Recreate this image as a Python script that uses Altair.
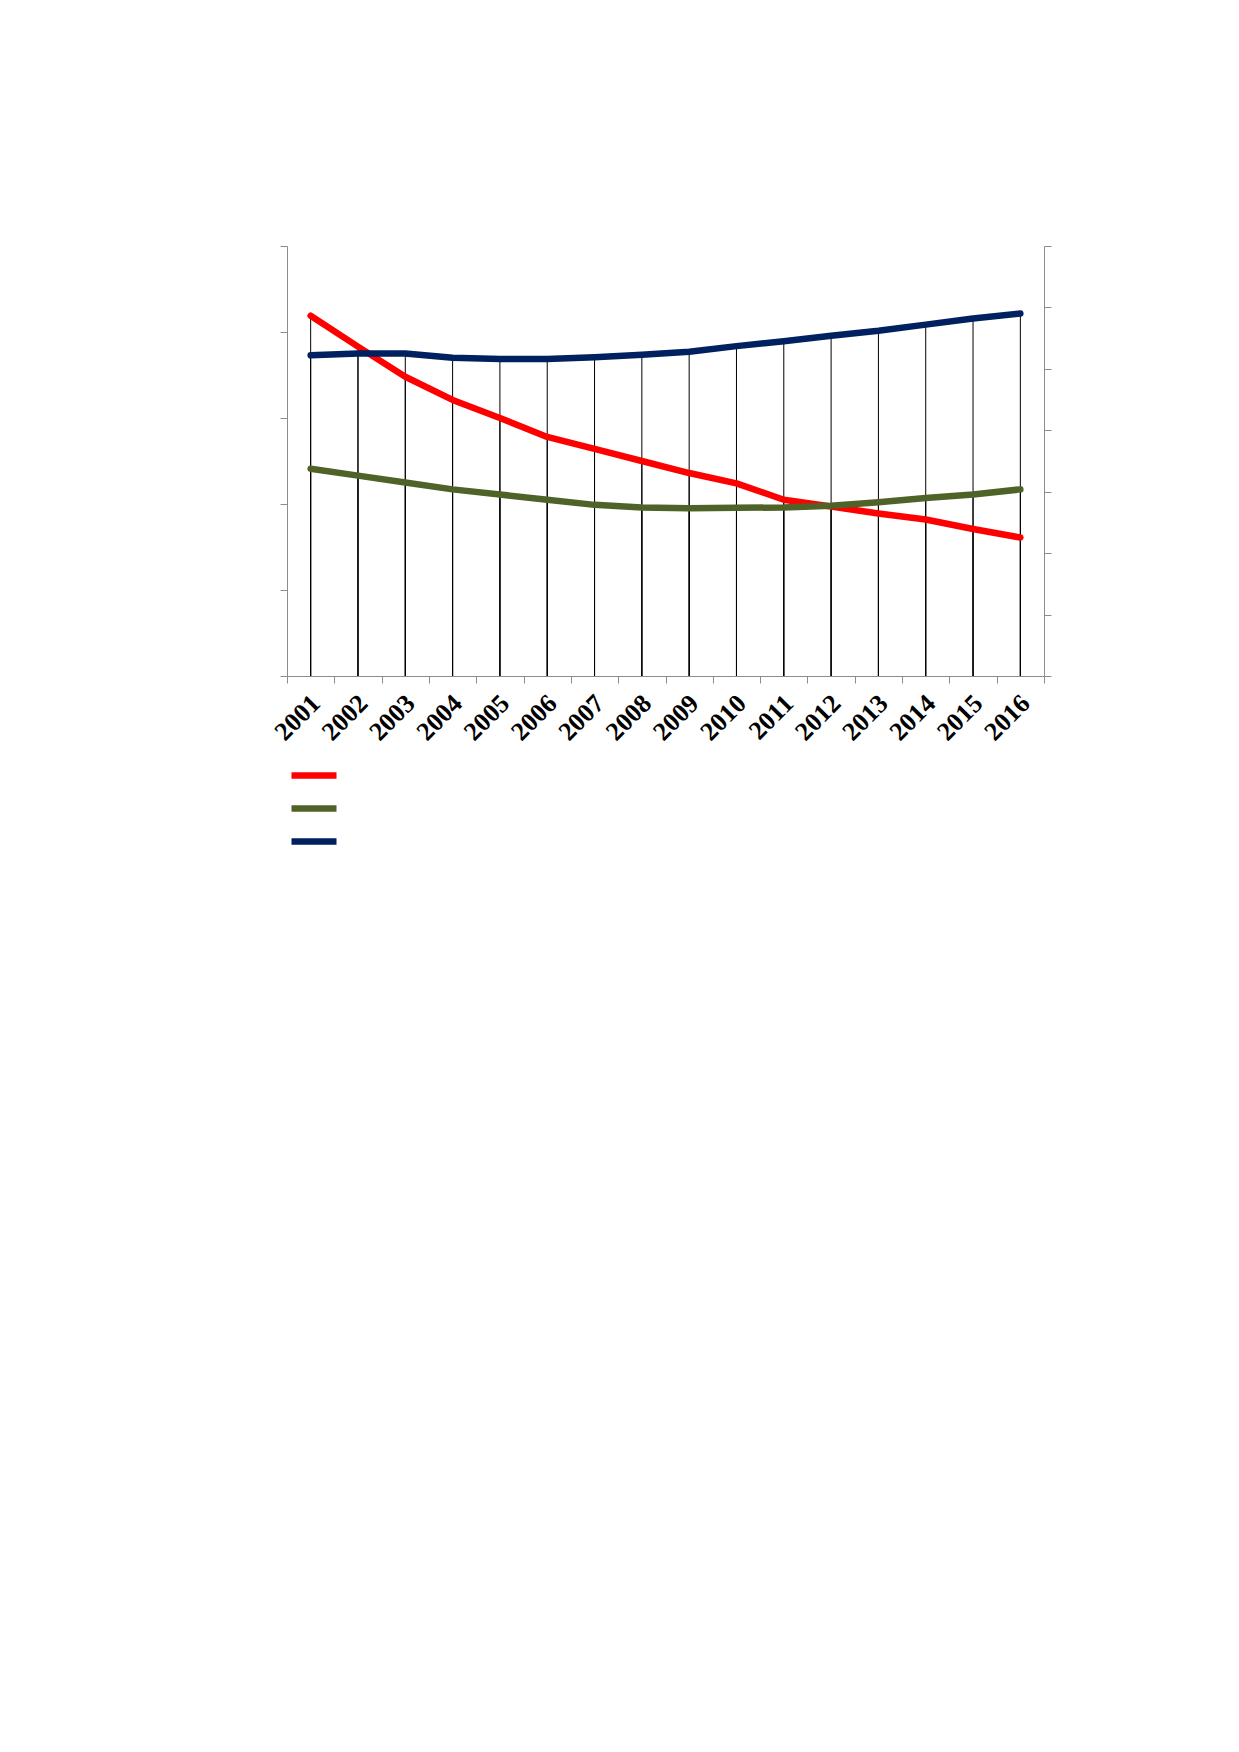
import altair as alt
import pandas as pd

years = [str(y) for y in range(2001, 2017)]
red = [4.19, 3.83, 3.48, 3.21, 3.00, 2.78, 2.64, 2.50, 2.36, 2.24, 2.05, 1.97, 1.89, 1.82, 1.71, 1.61]
green = [2.41, 2.33, 2.25, 2.17, 2.11, 2.05, 1.99, 1.96, 1.95, 1.955, 1.96, 1.98, 2.02, 2.07, 2.11, 2.17]
blue = [5.22, 5.25, 5.25, 5.18, 5.16, 5.16, 5.19, 5.23, 5.28, 5.37, 5.45, 5.54, 5.62, 5.72, 5.82, 5.90]
series_names = ["Series 1", "Series 2", "Series 3"]
colors = ["#FF0000", "#4F6228", "#002060"]
left_ticks = [0, 1, 2, 3, 4, 5]
right_ticks = [0, 1, 2, 3, 4, 5, 6, 7]

left_df = pd.DataFrame({
    "year": years * 2,
    "value": red + green,
    "series": [series_names[0]] * len(years) + [series_names[1]] * len(years),
})
right_df = pd.DataFrame({
    "year": years,
    "value": blue,
    "series": [series_names[2]] * len(years),
})

AX_GRAY = "#8c8c8c"

x_enc = alt.X(
    "year:O", sort=years,
    scale=alt.Scale(type="band", paddingInner=0, paddingOuter=0),
    axis=alt.Axis(
        title=None, labelAngle=-45, labelAlign="right", labelBaseline="middle",
        labelFont="Liberation Serif", labelFontWeight="bold", labelFontSize=26,
        labelColor="black", labelPadding=16, labelOffset=5, tickBand="extent",
        tickSize=7, tickColor=AX_GRAY, domainColor=AX_GRAY, grid=False,
        labelLimit=300, labelOverlap=False,
    ),
)

left_scale = alt.Scale(domain=[left_ticks[0], left_ticks[-1]], nice=False)
right_scale = alt.Scale(domain=[right_ticks[0], right_ticks[-1]], nice=False)

left_axis = alt.Axis(title=None, labels=False, values=left_ticks, tickSize=7,
                     tickColor=AX_GRAY, domainColor=AX_GRAY, grid=False, orient="left")
right_axis = alt.Axis(title=None, labels=False, values=right_ticks, tickSize=7,
                      tickColor=AX_GRAY, domainColor=AX_GRAY, grid=False, orient="right")

color_enc = alt.Color(
    "series:N",
    scale=alt.Scale(domain=series_names, range=colors),
    legend=alt.Legend(
        title=None, orient="none", legendX=1, legendY=513, labelExpr="''",
        symbolType="stroke", symbolStrokeWidth=6.5, symbolSize=2025,
        clipHeight=33, rowPadding=0, padding=0, labelOffset=0,
    ),
)

rules_left = alt.Chart(left_df).mark_rule(color="black", strokeWidth=1).encode(
    x=x_enc,
    y=alt.Y("value:Q", scale=left_scale, axis=left_axis),
    y2=alt.datum(0),
)
rules_right = alt.Chart(right_df).mark_rule(color="black", strokeWidth=1).encode(
    x=x_enc,
    y=alt.Y("value:Q", scale=right_scale, axis=right_axis),
    y2=alt.datum(0),
)
lines_left = alt.Chart(left_df).mark_line(
    strokeWidth=6.5, strokeCap="round", strokeJoin="round"
).encode(
    x=x_enc,
    y=alt.Y("value:Q", scale=left_scale, axis=None),
    color=color_enc,
)
lines_right = alt.Chart(right_df).mark_line(
    strokeWidth=6.5, strokeCap="round", strokeJoin="round"
).encode(
    x=x_enc,
    y=alt.Y("value:Q", scale=right_scale, axis=None),
    color=color_enc,
)

chart = alt.layer(rules_left, rules_right, lines_left, lines_right).resolve_scale(
    y="independent"
).properties(
    width=757, height=430,
    padding={"left": 279, "top": 238, "right": 150, "bottom": 900},
    autosize=alt.AutoSizeParams(type="none"),
    background="white",
).configure_view(stroke=None)

chart.save("out.html", embed_options={"renderer": "svg", "actions": False})
